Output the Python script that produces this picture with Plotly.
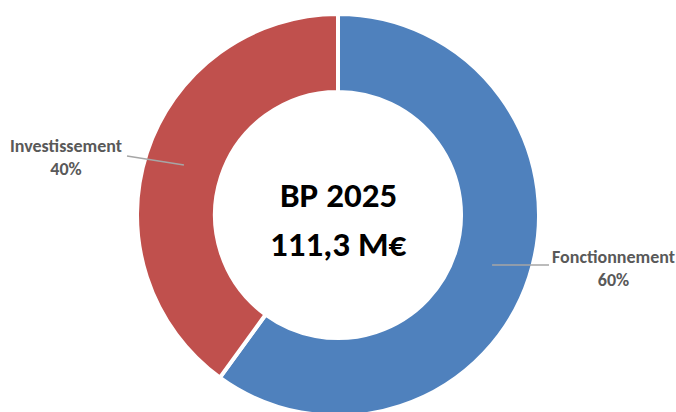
import math
import plotly.graph_objects as go

labels = ["Fonctionnement", "Investissement"]
values = [60, 40]
percent_text = ["60%", "40%"]
colors = ["#4F81BD", "#C0504D"]
center_lines = ["BP 2025", "111,3 M€"]

W, H = 676, 430              # taller than the 412 window: bottom of ring is cut off as in the original
CX, CY = 338, 215            # ring centre in pixels (from top-left)
R = 201
HOLE = 0.612

font_family = "Calibri, Carlito, 'Liberation Sans', Arial, sans-serif"

fig = go.Figure(go.Pie(
    labels=labels,
    values=values,
    sort=False,
    direction="clockwise",
    rotation=0,
    hole=HOLE,
    marker=dict(colors=colors, line=dict(color="white", width=4)),
    textinfo="none",
    hoverinfo="label+percent",
    showlegend=False,
    domain=dict(x=[(CX - R) / W, (CX + R) / W], y=[(H - CY - R) / H, (H - CY + R) / H]),
))

def px(x, y):
    return x / W, 1 - y / H

total = sum(values)
cum = 0
mids = []
for v in values:
    a = (cum + v / 2) / total * 2 * math.pi  # clockwise from top
    cum += v
    rm = R * (1 + HOLE) / 2
    mids.append((CX + rm * math.sin(a), CY - rm * math.cos(a)))

label_pos = {"Fonctionnement": (613, 268), "Investissement": (66, 157)}
line_start = {"Fonctionnement": (549, None), "Investissement": (127, 156)}

annotations = []
shapes = []
for lab, pct, (mx, my) in zip(labels, percent_text, mids):
    lx, ly = label_pos[lab]
    ax, ay = px(lx, ly)
    annotations.append(dict(
        x=ax, y=ay, xref="paper", yref="paper", showarrow=False,
        text=f"<b>{lab}</b><br><b>{pct}</b>", align="center",
        font=dict(family=font_family, size=18, color="#595959"),
        xanchor="center", yanchor="middle",
    ))
    sx, sy = line_start[lab]
    if sy is None:
        sy = my
    x0, y0 = px(sx, sy)
    x1, y1 = px(mx, my)
    shapes.append(dict(type="line", xref="paper", yref="paper",
                       x0=x0, y0=y0, x1=x1, y1=y1,
                       line=dict(color="#A6A6A6", width=1.5)))

for txt, yy in zip(center_lines, [195, 244]):
    ax, ay = px(CX, yy)
    annotations.append(dict(
        x=ax, y=ay, xref="paper", yref="paper", showarrow=False,
        text=f"<b>{txt}</b>", font=dict(family=font_family, size=35, color="#000000"),
        xanchor="center", yanchor="middle",
    ))

fig.update_layout(
    width=W, height=H, autosize=False,
    margin=dict(l=0, r=0, t=0, b=0),
    paper_bgcolor="white", plot_bgcolor="white",
    annotations=annotations, shapes=shapes,
)

fig.write_html(
    "out.html",
    config={"displayModeBar": False},
    post_script=("document.body.style.margin='0';"
                 "document.documentElement.style.overflow='hidden';"
                 "document.body.style.overflow='hidden';"),
)
